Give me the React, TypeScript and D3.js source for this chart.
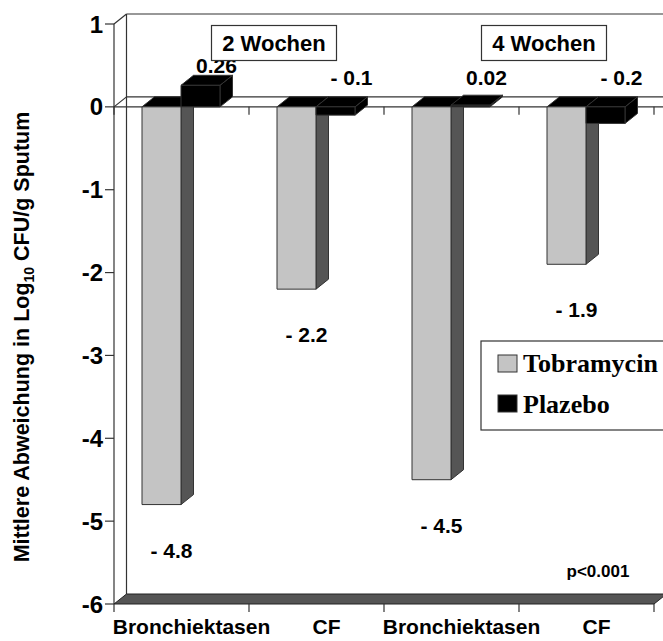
import React from "react";
import * as d3 from "d3";

const categories = ["Bronchiektasen", "CF", "Bronchiektasen", "CF"];
const periods = ["2 Wochen", "4 Wochen"];
const seriesNames = ["Tobramycin", "Plazebo"];
const tobramycin = [-4.8, -2.2, -4.5, -1.9];
const plazebo = [0.26, -0.1, 0.02, -0.2];
const yTicks = [1, 0, -1, -2, -3, -4, -5, -6];
const pValue = "p<0.001";

const W = 663;
const H = 641;
const DX = 12.5;
const DY = 10;
const FONT = "Arial, 'Liberation Sans', sans-serif";
const SERIF = "'Times New Roman', 'Liberation Serif', serif";

const fmt = (v: number) => (v < 0 ? "- " + Math.abs(v) : String(v));

export default function App() {
  const y = d3.scaleLinear().domain([-6, 1]).range([604, 24]);
  const ids = categories.map((_, i) => String(i));
  const x = d3.scaleBand().domain(ids).range([114, 654]).paddingInner(0).paddingOuter(0);
  const inner = d3.scaleBand().domain(seriesNames).range([28, 28 + 78]).paddingInner(0);
  const x0 = x.range()[0];
  const x1 = x.range()[1];
  const y0 = y(0);
  const yMin = y(-6);
  const yMax = y(1);
  const barW = inner.bandwidth();
  const pts = (a: number[][]) => a.map((p) => p.join(",")).join(" ");

  const bar = (key: string, xL: number, w: number, v: number, front: string, side: string, top: string) => {
    const yT = y(Math.max(0, v));
    const yB = y(Math.min(0, v));
    const xR = xL + w;
    return (
      <g key={key} stroke="#333" strokeWidth={1} strokeLinejoin="round">
        <polygon points={pts([[xR, yT], [xR + DX, yT - DY], [xR + DX, yB - DY], [xR, yB]])} fill={side} />
        <polygon points={pts([[xL, yT], [xL + DX, yT - DY], [xR + DX, yT - DY], [xR, yT]])} fill={top} />
        <rect x={xL} y={yT} width={w} height={Math.max(0.5, yB - yT)} fill={front} />
      </g>
    );
  };

  return (
    <svg width={W} height={H} style={{ position: "absolute", left: 0, top: 0, background: "#fff" }}>
      {/* back wall */}
      <g stroke="#333" strokeWidth={1.2} fill="none">
        <line x1={x0 + DX} y1={yMax - DY} x2={W + 5} y2={yMax - DY} />
        <line x1={x0 + DX} y1={yMax - DY} x2={x0 + DX} y2={yMin - DY} />
        <line x1={x0} y1={yMax} x2={x0 + DX} y2={yMax - DY} />
        <line x1={x0} y1={yMax} x2={x0} y2={yMin} />
        <line x1={x0 + DX} y1={y0 - DY} x2={W + 5} y2={y0 - DY} />
        <line x1={x0} y1={y0} x2={x0 + DX} y2={y0 - DY} />
      </g>
      {/* floor */}
      <polygon
        points={pts([[x0, yMin], [x0 + DX, yMin - DY], [x1 + DX, yMin - DY], [x1, yMin]])}
        fill="#555"
        stroke="#222"
        strokeWidth={1}
      />
      {/* y ticks */}
      {yTicks.map((t) => (
        <g key={"yt" + t}>
          <line x1={x0 - 9} x2={x0} y1={y(t)} y2={y(t)} stroke="#333" strokeWidth={1.2} />
          <text x={x0 - 11} y={y(t) + 8.5} textAnchor="end" fontFamily={FONT} fontWeight="bold" fontSize={24}>
            {t}
          </text>
        </g>
      ))}
      {/* zero line front */}
      <line x1={x0} x2={W + 5} y1={y0} y2={y0} stroke="#333" strokeWidth={1.2} />
      {/* category ticks */}
      {[...ids.map((d) => x(d) as number), x1].map((t, i) => (
        <g key={"ct" + i} stroke="#333" strokeWidth={1.2}>
          <line x1={t} x2={t} y1={y0} y2={y0 + 8} />
          <line x1={t} x2={t} y1={yMin} y2={yMin + 8} />
        </g>
      ))}
      {/* bars */}
      {ids.map((id, i) => {
        const cx = x(id) as number;
        return (
          <g key={"b" + id}>
            {bar("t" + id, cx + (inner("Tobramycin") as number), barW, tobramycin[i], "#c4c4c4", "#555", "#000")}
            {bar("p" + id, cx + (inner("Plazebo") as number), barW, plazebo[i], "#000", "#000", "#000")}
          </g>
        );
      })}
      {/* value labels */}
      {ids.map((id, i) => {
        const cx = x(id) as number;
        const tx = cx + (inner("Tobramycin") as number) + barW / 2 + 10;
        const px = cx + (inner("Plazebo") as number) + barW / 2 + 16;
        const py = Math.min(85, y(Math.max(0, plazebo[i])) - DY - 2);
        return (
          <g key={"l" + id} fontFamily={FONT} fontWeight="bold" fontSize={21} textAnchor="middle">
            <text x={tx} y={y(tobramycin[i]) + 53}>{fmt(tobramycin[i])}</text>
            <text x={px} y={py}>{fmt(plazebo[i])}</text>
          </g>
        );
      })}
      {/* period boxes */}
      {periods.map((p, i) => {
        const cx = (x(String(i * 2 + 1)) as number) + 25;
        return (
          <g key={"p" + i}>
            <rect x={cx - 62.5} y={25.5} width={125} height={35} fill="#fff" stroke="#333" strokeWidth={1.2} />
            <text x={cx} y={51} textAnchor="middle" fontFamily={FONT} fontWeight="bold" fontSize={22}>
              {p}
            </text>
          </g>
        );
      })}
      {/* category labels */}
      {ids.map((id, i) => (
        <text
          key={"c" + id}
          x={(x(id) as number) + x.bandwidth() / 2 + 10}
          y={634}
          textAnchor="middle"
          fontFamily={FONT}
          fontWeight="bold"
          fontSize={21}
        >
          {categories[i]}
        </text>
      ))}
      {/* p value */}
      <text x={598} y={577} textAnchor="middle" fontFamily={FONT} fontWeight="bold" fontSize={17}>
        {pValue}
      </text>
      {/* legend */}
      <g>
        <rect x={481} y={341} width={195} height={89} fill="#fff" stroke="#333" strokeWidth={1.2} />
        <rect x={498} y={355} width={19} height={17} fill="#c4c4c4" stroke="#333" strokeWidth={1} />
        <rect x={498} y={395} width={19} height={17} fill="#000" stroke="#333" strokeWidth={1} />
        <text x={523} y={372} fontFamily={SERIF} fontWeight="bold" fontSize={26}>{seriesNames[0]}</text>
        <text x={523} y={413} fontFamily={SERIF} fontWeight="bold" fontSize={26}>{seriesNames[1]}</text>
      </g>
      {/* y axis title */}
      <text
        transform="translate(29,337) rotate(-90)"
        textAnchor="middle"
        fontFamily={FONT}
        fontWeight="bold"
        fontSize={21.5}
      >
        Mittlere Abweichung in Log
        <tspan fontSize={14} dy={5}>10</tspan>
        <tspan dy={-5}> CFU/g Sputum</tspan>
      </text>
    </svg>
  );
}
